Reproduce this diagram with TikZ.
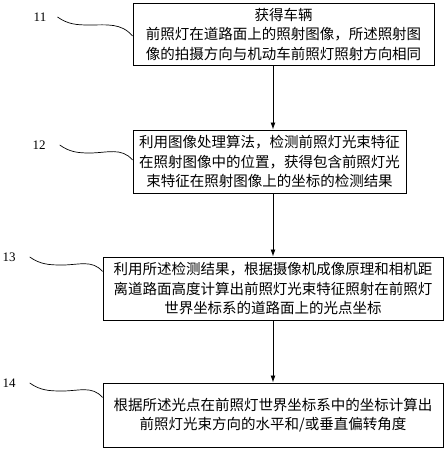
\documentclass[tikz,border=0pt]{standalone}
\usepackage{fontspec}
\setmainfont{Liberation Serif}
\newfontfamily\cjk{Noto Sans CJK SC}
\usetikzlibrary{arrows.meta}

\begin{document}
\begin{tikzpicture}[x=1pt,y=-1pt,
  stepbox/.style={draw, line width=1pt, inner sep=0pt, align=center,
    font=\cjk\fontsize{14.5}{19.5}\selectfont},
  steplabel/.style={inner sep=0pt, font=\fontsize{13}{13}\selectfont},
  flow/.style={-{Latex[length=7pt,width=5pt]}, line width=0.9pt},
  hook/.style={line width=0.7pt}]
  \useasboundingbox (0,0) rectangle (445,450);

  % Step boxes
  \node[stepbox, minimum width=301pt, minimum height=62pt] (b1) at (283.5,34)
    {获得车辆\\前照灯在道路面上的照射图像，所述照射图\\像的拍摄方向与机动车前照灯照射方向相同};
  \node[stepbox, minimum width=273pt, minimum height=63pt] (b2) at (269.5,161.5)
    {利用图像处理算法，检测前照灯光束特征\\在照射图像中的位置，获得包含前照灯光\\束特征在照射图像上的坐标的检测结果};
  \node[stepbox, minimum width=340pt, minimum height=63pt] (b3) at (273,288.5)
    {利用所述检测结果，根据摄像机成像原理和相机距\\离道路面高度计算出前照灯光束特征照射在前照灯\\世界坐标系的道路面上的光点坐标};
  \node[stepbox, minimum width=340pt, minimum height=64pt] (b4) at (273,415)
    {根据所述光点在前照灯世界坐标系中的坐标计算出\\前照灯光束方向的水平和/或垂直偏转角度};

  % Step numbers
  \node[steplabel] (l1) at (40,17) {11};
  \node[steplabel] (l2) at (39,145) {12};
  \node[steplabel] (l3) at (9,257) {13};
  \node[steplabel] (l4) at (9,383) {14};

  % Leader curves
  \draw[hook] ([xshift=11pt]l1.east) to[out=-35,in=180] ++(32,8)
    to[out=0,in=130] ([yshift=-2pt]b1.west);
  \draw[hook] ([xshift=14pt]l2.east) to[out=-35,in=180] ++(30,8)
    to[out=0,in=130] ([yshift=1.5pt]b2.west);
  \draw[hook] ([xshift=14pt]l3.east) to[out=-35,in=180] ++(33,8)
    to[out=0,in=130] ([yshift=-15pt]b3.north west);
  \draw[hook] ([xshift=14pt]l4.east) to[out=-35,in=180] ++(33,8)
    to[out=0,in=130] ([yshift=-15pt]b4.north west);

  % Flow arrows
  \draw[flow] (b1.south -| b3.north) -- (b2.north -| b3.north);
  \draw[flow] (b2.south -| b3.north) -- (b3.north);
  \draw[flow] (b3.south) -- (b4.north);
\end{tikzpicture}
\end{document}
